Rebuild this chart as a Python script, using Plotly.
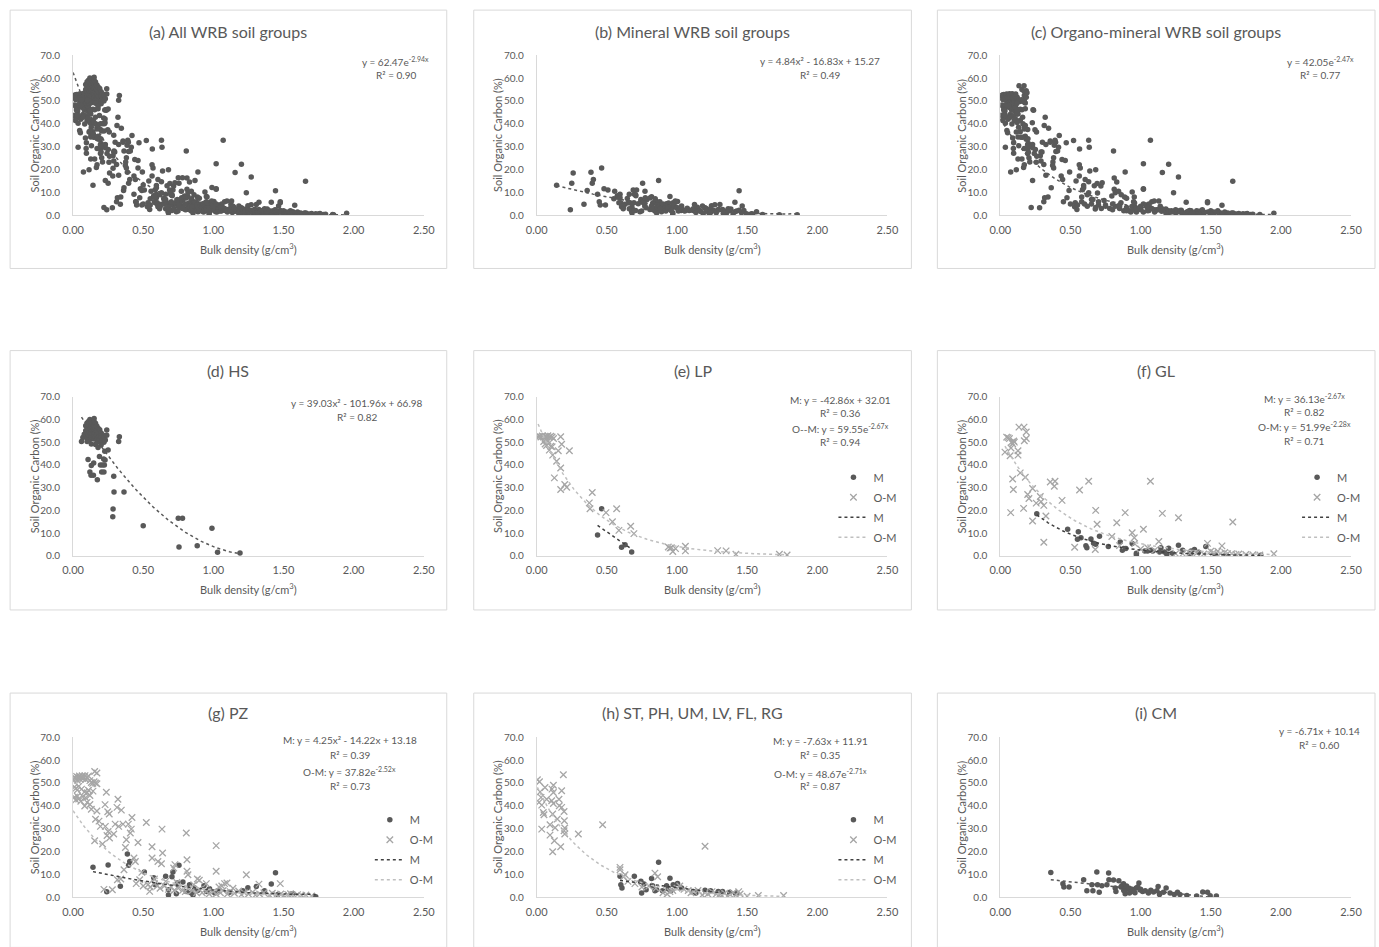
import numpy as np
import plotly.graph_objects as go

# The capture is slightly reduced (about 0.985) and the page body keeps an 8px margin;
# all layout positions below are given in target-picture pixels and converted.
SCALE = 0.985
BODY_MARGIN = 8
SHIFT_X, SHIFT_Y = -3, 1
W, H = 1392, 954

# ---------------- data (bulk density g/cm3, SOC %) ----------------
HS_PTS = [
    (0.07, 52.0), (0.08, 53.5), (0.09, 55.0), (0.09, 57.2), (0.10, 51.8), (0.10, 54.1), (0.10, 56.3),
    (0.10, 58.4), (0.11, 53.0), (0.11, 55.2), (0.11, 57.5), (0.11, 59.1), (0.12, 51.2), (0.12, 54.3),
    (0.12, 56.0), (0.12, 58.2), (0.12, 60.0), (0.13, 52.4), (0.13, 54.8), (0.13, 57.1), (0.13, 59.3),
    (0.14, 53.1), (0.14, 54.6), (0.14, 56.4), (0.14, 58.0), (0.15, 60.4), (0.15, 51.4), (0.15, 53.2),
    (0.15, 55.5), (0.15, 57.3), (0.15, 59.0), (0.16, 52.2), (0.16, 54.0), (0.16, 56.1), (0.16, 58.3),
    (0.17, 51.0), (0.17, 53.3), (0.17, 55.1), (0.17, 57.0), (0.18, 50.2), (0.18, 52.1), (0.18, 54.2),
    (0.18, 56.0), (0.19, 51.3), (0.19, 53.0), (0.19, 55.4), (0.20, 50.1), (0.20, 52.3), (0.20, 54.0),
    (0.21, 51.1), (0.21, 53.2), (0.22, 50.0), (0.22, 52.4), (0.23, 51.0), (0.24, 53.0), (0.13, 49.2),
    (0.16, 49.0), (0.20, 48.8), (0.10, 50.3), (0.06, 50.3),
    (0.107, 42.4), (0.13, 39.7), (0.12, 36.9), (0.128, 35.4), (0.145, 35.4), (0.147, 40.8), (0.173, 33.5),
    (0.188, 43.7), (0.178, 47.7), (0.195, 40.0), (0.21, 40.0), (0.223, 40.0), (0.204, 36.9), (0.22, 36.9),
    (0.218, 42.6), (0.228, 42.1), (0.226, 46.0), (0.24, 55.3), (0.25, 46.5), (0.325, 50.3), (0.33, 52.4),
    (0.29, 35.0), (0.292, 28.1), (0.285, 20.6), (0.283, 17.2), (0.363, 28.1), (0.50, 13.3), (0.75, 16.5),
    (0.78, 16.5), (0.755, 3.9), (0.885, 4.5), (0.99, 12.2), (1.03, 1.6), (1.19, 1.3),
]

LP_M_PTS = [(0.434, 9.2), (0.463, 20.7), (0.605, 3.8), (0.63, 4.9), (0.677, 1.7)]

LP_OM_PTS = [
    (0.01, 52.4), (0.02, 52.6), (0.03, 52.3), (0.04, 52.7), (0.05, 52.2), (0.06, 52.5), (0.07, 52.4),
    (0.08, 52.8), (0.09, 52.2), (0.10, 52.6), (0.11, 52.3), (0.12, 51.6), (0.05, 50.3), (0.06, 49.2),
    (0.07, 48.5), (0.08, 50.6), (0.09, 46.5), (0.10, 48.2), (0.07, 51.0), (0.11, 48.0), (0.114, 44.3),
    (0.126, 34.3), (0.142, 41.6), (0.154, 46.2), (0.171, 38.6), (0.171, 52.4), (0.178, 49.1), (0.171, 29.2),
    (0.20, 31.4), (0.214, 30.2), (0.233, 46.2), (0.396, 27.9), (0.375, 23.3), (0.38, 20.7), (0.494, 19.0),
    (0.57, 20.7), (0.54, 15.0), (0.586, 11.2), (0.67, 13.0), (0.693, 9.8), (0.938, 3.9), (0.95, 3.4),
    (0.96, 3.6), (0.97, 1.9), (0.99, 3.2), (1.06, 4.2), (1.06, 2.2), (1.29, 2.3), (1.35, 2.2), (1.42, 0.7),
    (1.73, 0.7), (1.785, 0.4),
]

GL_M_PTS = [
    (0.26, 18.5), (0.48, 11.7), (0.556, 10.6), (0.55, 7.3), (0.575, 8.0), (0.61, 4.4), (0.617, 3.6),
    (0.646, 7.4), (0.665, 5.5), (0.68, 5.1), (0.707, 8.6), (0.77, 4.1), (0.855, 6.1), (0.87, 2.5),
    (0.88, 3.2), (0.895, 3.2), (0.94, 5.4), (0.97, 1.2), (0.97, 0.4), (1.03, 2.2), (1.05, 2.2), (1.07, 2.5),
    (1.087, 2.2), (1.135, 1.7), (1.17, 1.7), (1.187, 0.7), (1.145, 3.6), (1.2, 3.4), (1.227, 1.2),
    (1.27, 4.7), (1.3, 2.5), (1.353, 0.9), (1.36, 2.2), (1.384, 2.8), (1.413, 1.6), (1.465, 4.1),
    (1.53, 0.7), (1.61, 0.4), (1.857, 0.3),
]

GL_OM_PTS = [
    (0.033, 45.6), (0.045, 52.2), (0.055, 52.0), (0.065, 51.6), (0.07, 44.0), (0.076, 47.4), (0.08, 50.0),
    (0.088, 49.3), (0.095, 50.5), (0.10, 50.0), (0.088, 33.8), (0.093, 29.2), (0.074, 19.0), (0.133, 56.6),
    (0.169, 56.6), (0.171, 50.6), (0.185, 54.5), (0.185, 51.6), (0.126, 46.2), (0.126, 44.3), (0.142, 36.5),
    (0.178, 34.6), (0.166, 20.9), (0.195, 27.0), (0.204, 25.2), (0.23, 29.6), (0.23, 15.3), (0.256, 23.2),
    (0.285, 26.1), (0.29, 23.8), (0.31, 22.2), (0.325, 17.5), (0.31, 6.0), (0.356, 32.5), (0.39, 32.8),
    (0.385, 30.6), (0.44, 24.4), (0.53, 3.8), (0.565, 29.0), (0.63, 32.8), (0.68, 20.0), (0.69, 13.9),
    (0.677, 2.8), (0.795, 8.5), (0.83, 14.6), (0.89, 19.0), (0.94, 10.2), (0.955, 8.0), (0.957, 5.4),
    (1.02, 11.7), (1.07, 32.8), (1.05, 3.6), (1.13, 6.3), (1.155, 18.7), (1.27, 16.8), (1.477, 5.5),
    (1.58, 4.4), (1.657, 14.9), (1.95, 0.9), (0.85, 4.5), (1.0, 3.0), (1.1, 2.5), (1.25, 1.0), (1.3, 1.0),
    (1.35, 1.2), (1.4, 1.2), (1.45, 0.8), (1.5, 2.0), (1.52, 1.5), (1.55, 2.0), (1.57, 1.0), (1.6, 1.5),
    (1.62, 1.0), (1.65, 1.0), (1.68, 0.6), (1.7, 0.8), (1.75, 0.6), (1.8, 0.5), (1.85, 0.4),
]

PZ_M_PTS = [
    (0.142, 13.2), (0.25, 14.1), (0.24, 2.5), (0.337, 4.9), (0.387, 18.9), (0.396, 14.0), (0.404, 15.7),
    (0.508, 11.1), (0.575, 8.6), (0.586, 5.5), (0.66, 9.2), (0.68, 3.3), (0.68, 1.0), (0.705, 9.0),
    (0.712, 11.1), (0.743, 6.3), (0.755, 14.0), (0.736, 1.6), (0.783, 6.7), (0.807, 2.6), (0.83, 5.5),
    (0.843, 1.9), (0.855, 1.0), (0.867, 4.1), (0.89, 3.1), (0.933, 5.1), (0.954, 2.6), (0.973, 3.8),
    (1.01, 1.9), (1.033, 2.9), (1.116, 2.2), (1.21, 2.9), (1.246, 4.2), (1.306, 4.8), (1.365, 2.9),
    (1.413, 5.8), (1.443, 10.8), (1.46, 1.2), (1.567, 1.6), (1.73, 0.3),
]

PZ_OM_PTS = [
    (0.0, 51.4), (0.01, 52.5), (0.02, 51.8), (0.025, 52.8), (0.03, 51.2), (0.04, 52.3), (0.045, 53.0),
    (0.05, 51.6), (0.06, 52.4), (0.065, 53.1), (0.07, 51.9), (0.08, 52.6), (0.085, 53.2), (0.09, 51.5),
    (0.10, 52.4), (0.11, 53.0), (0.12, 51.0), (0.13, 50.2), (0.14, 49.8), (0.15, 50.5), (0.16, 50.0),
    (0.17, 49.6), (0.154, 55.0), (0.17, 54.3), (0.01, 48.2), (0.02, 47.6), (0.03, 46.9), (0.04, 48.5),
    (0.06, 47.3), (0.08, 46.0), (0.10, 45.7), (0.11, 46.8), (0.12, 44.5), (0.142, 46.4), (0.01, 43.8),
    (0.02, 42.6), (0.03, 44.2), (0.04, 43.0), (0.055, 42.0), (0.07, 44.0), (0.09, 43.5), (0.10, 41.5),
    (0.083, 39.9), (0.12, 40.6), (0.13, 38.5), (0.16, 34.1), (0.17, 37.7), (0.185, 33.3), (0.154, 24.7),
    (0.195, 31.0), (0.21, 23.3), (0.23, 31.0), (0.25, 28.8), (0.242, 27.0), (0.26, 25.9), (0.237, 45.9),
    (0.228, 40.5), (0.247, 37.4), (0.258, 36.4), (0.29, 27.7), (0.30, 32.0), (0.313, 39.3), (0.32, 42.9),
    (0.325, 31.0), (0.344, 38.1), (0.356, 32.0), (0.363, 12.1), (0.373, 21.8), (0.38, 25.2), (0.394, 32.0),
    (0.408, 28.1), (0.42, 34.9), (0.415, 29.8), (0.434, 17.2), (0.444, 15.7), (0.463, 24.0), (0.475, 7.7),
    (0.49, 10.9), (0.522, 32.7), (0.534, 5.5), (0.546, 2.6), (0.563, 17.2), (0.563, 22.1), (0.605, 15.7),
    (0.63, 14.7), (0.634, 29.8), (0.638, 19.4), (0.717, 12.8), (0.726, 14.3), (0.807, 28.1), (0.812, 16.4),
    (0.812, 11.4), (0.819, 9.9), (0.886, 8.0), (1.02, 22.6), (1.02, 11.4), (1.08, 6.0), (1.097, 6.3),
    (1.235, 9.9), (1.325, 5.8), (1.477, 6.0), (1.55, 1.6), (0.22, 3.5), (0.28, 3.3), (0.316, 7.7), (0.34, 8.0),
    (0.45, 6.0), (0.50, 5.0), (0.55, 4.5), (0.58, 6.0), (0.60, 5.0), (0.62, 4.0), (0.65, 5.0), (0.68, 3.5),
    (0.70, 4.5), (0.72, 3.0), (0.75, 4.0), (0.78, 3.0), (0.80, 2.5), (0.82, 4.0), (0.85, 3.0), (0.88, 2.0),
    (0.90, 3.5), (0.92, 2.0), (0.95, 2.5), (0.97, 1.5), (1.00, 2.5), (1.02, 1.5), (1.05, 2.0), (1.07, 3.0),
    (1.10, 1.5), (1.12, 2.5), (1.15, 1.8), (1.18, 2.8), (1.20, 1.2), (1.22, 2.0), (1.25, 1.5), (1.28, 2.2),
    (1.30, 1.0), (1.33, 1.5), (1.36, 2.0), (1.40, 1.0), (1.42, 1.8), (1.45, 1.2), (1.48, 1.5), (1.50, 0.8),
    (1.53, 1.3), (1.56, 1.0), (1.60, 1.2), (1.63, 0.8), (1.66, 1.0), (1.70, 0.6), (0.58, 8.0), (0.66, 7.0),
    (0.74, 6.5), (0.86, 5.5), (0.95, 6.0), (1.04, 4.5), (1.14, 4.0), (0.90, 7.5), (1.06, 5.0),
]

OTH_M_PTS = [
    (0.594, 9.2), (0.60, 5.5), (0.608, 4.1), (0.696, 9.2), (0.743, 7.0), (0.748, 1.9), (0.765, 5.8),
    (0.78, 3.3), (0.819, 8.2), (0.826, 5.1), (0.843, 2.9), (0.855, 3.3), (0.869, 15.3), (0.897, 2.9),
    (0.926, 5.1), (0.938, 3.6), (0.95, 8.3), (0.957, 3.0), (0.973, 5.5), (1.004, 6.1), (1.033, 4.1),
    (1.116, 2.6), (1.135, 1.9), (1.2, 3.1), (1.24, 2.9), (1.294, 2.6), (1.325, 2.6), (1.377, 2.2),
    (1.425, 1.9),
]

OTH_OM_PTS = [
    (0.005, 51.4), (0.02, 50.5), (0.024, 46.1), (0.031, 43.7), (0.017, 41.5), (0.036, 40.3), (0.036, 29.8),
    (0.047, 37.1), (0.052, 36.1), (0.059, 48.0), (0.071, 42.9), (0.095, 27.2), (0.095, 31.7), (0.107, 42.2),
    (0.114, 36.4), (0.109, 47.3), (0.119, 45.8), (0.119, 49.0), (0.119, 41.0), (0.114, 19.9), (0.126, 24.7),
    (0.131, 30.4), (0.147, 34.2), (0.159, 42.9), (0.161, 40.0), (0.171, 22.1), (0.178, 46.6), (0.178, 39.3),
    (0.19, 53.6), (0.195, 37.5), (0.197, 33.5), (0.195, 29.1), (0.20, 27.7), (0.20, 30.3), (0.297, 27.7),
    (0.47, 31.7), (0.594, 13.1), (0.594, 12.1), (0.63, 9.9), (0.843, 10.6), (0.862, 9.0), (1.2, 22.3),
    (0.62, 9.0), (0.65, 7.0), (0.70, 6.0), (0.75, 4.5), (0.80, 5.0), (0.85, 4.0), (0.90, 2.0), (0.93, 1.5),
    (0.95, 2.5), (0.97, 3.0), (1.00, 4.0), (1.02, 5.0), (1.05, 3.5), (1.08, 3.0), (1.10, 2.0), (1.12, 2.5),
    (1.15, 3.0), (1.18, 1.0), (1.20, 2.0), (1.22, 1.5), (1.25, 2.5), (1.28, 1.5), (1.30, 1.0), (1.32, 0.8),
    (1.34, 1.8), (1.36, 0.6), (1.38, 1.2), (1.40, 2.0), (1.42, 1.0), (1.44, 2.5), (1.45, 1.5), (1.50, 0.5),
    (1.58, 0.8), (1.76, 0.8),
]

CM_PTS = [
    (0.36, 10.9), (0.446, 6.0), (0.453, 4.5), (0.49, 4.5), (0.594, 7.7), (0.617, 2.9), (0.653, 5.5),
    (0.66, 2.9), (0.688, 11.1), (0.693, 5.5), (0.705, 2.2), (0.724, 5.1), (0.76, 5.5), (0.772, 10.6),
    (0.774, 7.7), (0.807, 7.6), (0.819, 4.1), (0.824, 2.6), (0.845, 7.3), (0.867, 5.1), (0.878, 6.0),
    (0.886, 3.2), (0.89, 1.6), (0.907, 3.6), (0.921, 1.9), (0.938, 3.2), (0.95, 2.6), (0.969, 4.1),
    (0.988, 6.3), (0.997, 3.2), (1.014, 2.6), (1.033, 2.9), (1.056, 1.9), (1.073, 3.1), (1.092, 2.3),
    (1.116, 2.9), (1.125, 4.8), (1.135, 1.3), (1.163, 2.2), (1.182, 4.1), (1.21, 1.9), (1.24, 1.3),
    (1.263, 2.2), (1.28, 1.2), (1.33, 0.8), (1.40, 0.6), (1.443, 2.3), (1.477, 2.2), (1.496, 0.7),
    (1.54, 0.6), (0.86, 4.5), (0.88, 3.0), (0.90, 5.0), (0.92, 4.0), (0.94, 3.5), (0.96, 2.0),
    (0.98, 4.5), (1.00, 3.5),
]

MINERAL_PTS = LP_M_PTS + GL_M_PTS + PZ_M_PTS + OTH_M_PTS + CM_PTS
ORGANO_PTS = LP_OM_PTS + GL_OM_PTS + PZ_OM_PTS + OTH_OM_PTS
ALL_PTS = MINERAL_PTS + ORGANO_PTS + HS_PTS

# trendline types and coefficients as printed on the chart
FIT_A = ("exp", 62.47, -2.94)
FIT_B = ("poly2", 4.84, -16.83, 15.27)
FIT_C = ("exp", 42.05, -2.47)
FIT_D = ("poly2", 39.03, -101.96, 66.98)
FIT_E_M = ("lin", -42.86, 32.01)
FIT_E_OM = ("exp", 59.55, -2.67)
FIT_F_M = ("exp", 36.13, -2.67)
FIT_F_OM = ("exp", 51.99, -2.28)
FIT_G_M = ("poly2", 4.25, -14.22, 13.18)
FIT_G_OM = ("exp", 37.82, -2.52)
FIT_H_M = ("lin", -7.63, 11.91)
FIT_H_OM = ("exp", 48.67, -2.71)
FIT_I = ("lin", -6.71, 10.14)

TITLES = ["(a) All WRB soil groups", "(b) Mineral WRB soil groups", "(c) Organo-mineral WRB soil groups",
          "(d) HS", "(e) LP", "(f) GL", "(g) PZ", "(h) ST, PH, UM, LV, FL, RG", "(i) CM"]

X_TICKS = [0.0, 0.5, 1.0, 1.5, 2.0, 2.5]
Y_TICKS = [0, 10, 20, 30, 40, 50, 60, 70]

# ---------------- styling ----------------
FONT = "Lato"
TXT = "#595959"
DOT = "#595959"
CROSS = "#a6a6a6"
LINE_M = "#404040"
LINE_OM = "#bfbfbf"
AXIS = "#d9d9d9"

COL_PLOT = [(73, 424), (537, 888), (1001, 1352)]
ROW_PLOT = [(55, 215), (396, 555), (736, 896)]
COL_FRAME = [(10, 447), (474, 912), (938, 1376)]
ROW_FRAME = [(10, 268), (350, 609), (692, 946)]
TITLE_Y = [31, 370, 711]


def px(x):
    return ((x + SHIFT_X) / SCALE - BODY_MARGIN) / W


def py(y):
    return 1 - ((y + SHIFT_Y) / SCALE - BODY_MARGIN) / H


def fs(size):
    return round(size / SCALE)


def split(pts):
    return [p[0] for p in pts], [p[1] for p in pts]


def fit_curve(fit, pts):
    xs = [p[0] for p in pts]
    xx = np.linspace(min(xs), max(xs), 120)
    kind = fit[0]
    if kind == "exp":
        yy = fit[1] * np.exp(fit[2] * xx)
    elif kind == "poly2":
        yy = fit[1] * xx ** 2 + fit[2] * xx + fit[3]
    else:
        yy = fit[1] * xx + fit[2]
    return xx, yy


fig = go.Figure()

PANELS = [
    ([("dot", ALL_PTS)], [(FIT_A, ALL_PTS, DOT)],
     ["y = 62.47e<sup>-2.94x</sup>", "R² = 0.90"], None),
    ([("dot", MINERAL_PTS)], [(FIT_B, MINERAL_PTS, DOT)],
     ["y = 4.84x² - 16.83x + 15.27", "R² = 0.49"], None),
    ([("dot", ORGANO_PTS)], [(FIT_C, ORGANO_PTS, DOT)],
     ["y = 42.05e<sup>-2.47x</sup>", "R² = 0.77"], None),
    ([("dot", HS_PTS)], [(FIT_D, HS_PTS, DOT)],
     ["y = 39.03x² - 101.96x + 66.98", "R² = 0.82"], None),
    ([("dot", LP_M_PTS), ("cross", LP_OM_PTS)],
     [(FIT_E_M, LP_M_PTS, LINE_M), (FIT_E_OM, LP_OM_PTS, LINE_OM)],
     ["M: y = -42.86x + 32.01", "R² = 0.36", "O--M: y = 59.55e<sup>-2.67x</sup>", "R² = 0.94"], "legend"),
    ([("dot", GL_M_PTS), ("cross", GL_OM_PTS)],
     [(FIT_F_M, GL_M_PTS, LINE_M), (FIT_F_OM, GL_OM_PTS, LINE_OM)],
     ["M: y = 36.13e<sup>-2.67x</sup>", "R² = 0.82", "O-M: y = 51.99e<sup>-2.28x</sup>", "R² = 0.71"], "legend2"),
    ([("dot", PZ_M_PTS), ("cross", PZ_OM_PTS)],
     [(FIT_G_M, PZ_M_PTS, LINE_M), (FIT_G_OM, PZ_OM_PTS, LINE_OM)],
     ["M: y = 4.25x² - 14.22x + 13.18", "R² = 0.39", "O-M: y = 37.82e<sup>-2.52x</sup>", "R² = 0.73"], "legend3"),
    ([("dot", OTH_M_PTS), ("cross", OTH_OM_PTS)],
     [(FIT_H_M, OTH_M_PTS, LINE_M), (FIT_H_OM, OTH_OM_PTS, LINE_OM)],
     ["M: y = -7.63x + 11.91", "R² = 0.35", "O-M: y = 48.67e<sup>-2.71x</sup>", "R² = 0.87"], "legend4"),
    ([("dot", CM_PTS)], [(FIT_I, CM_PTS, DOT)],
     ["y = -6.71x + 10.14", "R² = 0.60"], None),
]

EQ_POS = [(386, 51, [0, 14]), (347, 51, [0, 14]), (383, 51, [0, 14]),
          (347, 52, [0, 14]), (367, 49, [0, 13, 29, 42]), (367, 48, [0, 13, 28, 42]),
          (340, 47, [0, 15, 31, 46]), (347, 48, [0, 14, 32, 45]), (382, 38, [0, 14])]

annotations = []
shapes = []
layout_axes = {}
legends = {}

for i, (series, fits, eqs, leg) in enumerate(PANELS):
    r, c = divmod(i, 3)
    n = "" if i == 0 else str(i + 1)
    xa, ya = "x" + n, "y" + n
    x0, x1 = COL_PLOT[c]
    y0, y1 = ROW_PLOT[r]
    layout_axes["xaxis" + n] = dict(
        domain=[px(x0), px(x1)], anchor=ya, range=[0, 2.5], tickvals=X_TICKS, tickformat=".2f",
        showline=True, linecolor=AXIS, linewidth=1, showgrid=False, zeroline=False, ticks="",
        tickfont=dict(family=FONT, size=fs(10.4), color=TXT), ticklabelstandoff=4, fixedrange=True)
    layout_axes["yaxis" + n] = dict(
        domain=[py(y1), py(y0)], anchor=xa, range=[0, 70], tickvals=Y_TICKS, tickformat=".1f",
        showline=True, linecolor=AXIS, linewidth=1, showgrid=False, zeroline=False, ticks="",
        tickfont=dict(family=FONT, size=fs(9.9), color=TXT), ticklabelstandoff=10, fixedrange=True)

    show = leg is not None
    for kind, pts in series:
        xs, ys = split(pts)
        if kind == "dot":
            mk = dict(symbol="circle", size=5.5, color=DOT)
            name = "M"
        else:
            mk = dict(symbol="x-thin", size=6.5, color=CROSS, line=dict(width=1.3, color=CROSS))
            name = "O-M"
        tr = go.Scatter(x=xs, y=ys, mode="markers", marker=mk, name=name, xaxis=xa, yaxis=ya,
                        showlegend=show, hoverinfo="skip")
        if show:
            tr.update(legend=leg, legendgroup=name + "p" + n)
        fig.add_trace(tr)
    for fit, pts, col in fits:
        xx, yy = fit_curve(fit, pts)
        name = "M" if col == LINE_M else "O-M"
        tr = go.Scatter(x=xx, y=yy, mode="lines", line=dict(color=col, width=1.5, dash="dot"),
                        name=name, xaxis=xa, yaxis=ya, showlegend=show, hoverinfo="skip")
        if show:
            tr.update(legend=leg, legendgroup=name + "l" + n)
        fig.add_trace(tr)

    fx0, fx1 = COL_FRAME[c]
    fy0, fy1 = ROW_FRAME[r]
    shapes.append(dict(type="rect", xref="paper", yref="paper", x0=px(fx0), x1=px(fx1),
                       y0=py(fy1), y1=py(fy0), line=dict(color=AXIS, width=1), fillcolor="rgba(0,0,0,0)"))
    annotations.append(dict(text=TITLES[i], x=px((fx0 + fx1) / 2), y=py(TITLE_Y[r]), xref="paper",
                            yref="paper", showarrow=False, xanchor="center", yanchor="middle",
                            font=dict(family=FONT, size=fs(16), color=TXT)))
    annotations.append(dict(text="Bulk density (g/cm<sup>3</sup>)", x=px((x0 + x1) / 2), y=py(y1 + 33),
                            xref="paper", yref="paper", showarrow=False, xanchor="center",
                            yanchor="middle", font=dict(family=FONT, size=fs(11), color=TXT)))
    annotations.append(dict(text="Soil Organic Carbon (%)", x=px(fx0 + 24), y=py((y0 + y1) / 2),
                            xref="paper", yref="paper", showarrow=False, textangle=-90,
                            xanchor="center", yanchor="middle",
                            font=dict(family=FONT, size=fs(11), color=TXT)))
    ex, ey, offs = EQ_POS[i]
    for txt, off in zip(eqs, offs):
        annotations.append(dict(text=txt, x=px(fx0 + ex), y=py(fy0 + ey + off), xref="paper",
                                yref="paper", showarrow=False, xanchor="center", yanchor="middle",
                                font=dict(family=FONT, size=fs(10), color=TXT)))
    if show:
        legends[leg] = dict(x=px(fx0 + 360), y=py(fy0 + 112), xanchor="left", yanchor="top",
                            bgcolor="rgba(0,0,0,0)", font=dict(family=FONT, size=fs(11), color=TXT),
                            itemwidth=30, tracegroupgap=1, traceorder="grouped")

fig.update_layout(
    width=W, height=H, margin=dict(l=0, r=0, t=0, b=0), autosize=False,
    paper_bgcolor="white", plot_bgcolor="white",
    annotations=annotations, shapes=shapes, **layout_axes, **legends,
)

fig.write_html("out.html", include_plotlyjs=True)
